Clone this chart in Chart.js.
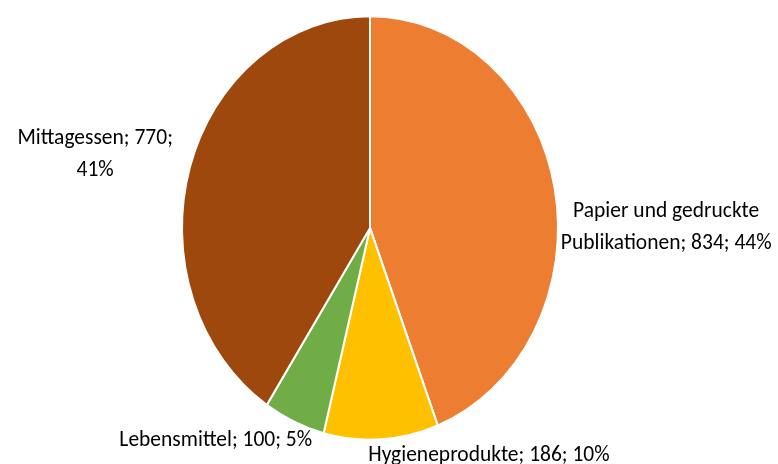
<!DOCTYPE html>
<html>
<head>
<meta charset="utf-8">
<script src="https://cdn.jsdelivr.net/npm/chart.js@4.4.0/dist/chart.umd.min.js"></script>
<style>
  html, body { margin: 0; padding: 0; background: #fff; }
  #wrap { width: 778px; height: 464px; }
</style>
</head>
<body>
<div id="wrap"><canvas id="chart" width="778" height="464"></canvas></div>
<script>
// data
const categories = ['Papier und gedruckte Publikationen', 'Hygieneprodukte', 'Lebensmittel', 'Mittagessen'];
const values = [834, 186, 100, 770];
const colors = ['#ED7D31', '#FFC000', '#70AD47', '#9E480E'];

// how the labels wrap, as in the original
const labelBreaks = [
  ['Papier und gedruckte', 'Publikationen; {v}; {p}'],
  ['Hygieneprodukte; {v}; {p}'],
  ['Lebensmittel; {v}; {p}'],
  ['Mittagessen; {v};', '{p}']
];
// small nudges so labels sit where the original put them
const labelNudge = [[2, 44], [-17, 0], [22, 4], [-13, -4]];

const yStretch = 213 / 189; // the original pie is a bit taller than wide
const fontFamily = 'Carlito, Calibri, Lato, "Open Sans", sans-serif';
const fontSize = 21.5;
const lineHeight = 32;

const total = values.reduce((a, b) => a + b, 0);

// stretch the pie vertically around its centre
const ellipsePlugin = {
  id: 'ellipse',
  beforeDatasetsDraw(chart) {
    const arc = chart.getDatasetMeta(0).data[0];
    const ctx = chart.ctx;
    ctx.save();
    ctx.translate(arc.x, arc.y);
    ctx.scale(1, yStretch);
    ctx.translate(-arc.x, -arc.y);
  },
  afterDatasetsDraw(chart) {
    chart.ctx.restore();
  }
};

// Excel style outside labels: "name; value; percent"
const labelPlugin = {
  id: 'outLabels',
  afterDraw(chart) {
    const ctx = chart.ctx;
    const meta = chart.getDatasetMeta(0);
    ctx.save();
    ctx.font = fontSize + 'px ' + fontFamily;
    ctx.fillStyle = '#000';
    ctx.textBaseline = 'middle';
    ctx.textAlign = 'center';
    meta.data.forEach((arc, i) => {
      const p = arc.getProps(['x', 'y', 'startAngle', 'endAngle', 'outerRadius'], true);
      const mid = (p.startAngle + p.endAngle) / 2;
      const px = p.x + Math.cos(mid) * p.outerRadius;
      const py = p.y + Math.sin(mid) * p.outerRadius * yStretch;
      const pct = Math.round(values[i] / total * 100) + '%';
      const lines = labelBreaks[i].map(s => s.replace('{v}', values[i]).replace('{p}', pct));
      const w = Math.max(...lines.map(l => ctx.measureText(l).width));
      const h = lines.length * lineHeight;
      let cx = Math.cos(mid) >= 0 ? px + 4 + w / 2 : px - 4 - w / 2;
      let cy = py + Math.sin(mid) * h / 2;
      cx += labelNudge[i][0];
      cy += labelNudge[i][1];
      lines.forEach((l, k) => {
        const ly = cy - h / 2 + lineHeight * (k + 0.5);
        ctx.save();
        ctx.translate(cx, ly);
        ctx.scale(1, 1.06);
        ctx.fillText(l, 0, 0);
        ctx.restore();
      });
    });
    ctx.restore();
  }
};

new Chart(document.getElementById('chart'), {
  type: 'pie',
  data: {
    labels: categories,
    datasets: [{
      data: values,
      backgroundColor: colors,
      borderColor: '#fff',
      borderWidth: 2
    }]
  },
  options: {
    responsive: false,
    animation: false,
    layout: { padding: { left: 181, right: 219, top: 39, bottom: 47 } },
    plugins: {
      legend: { display: false },
      tooltip: { enabled: false }
    }
  },
  plugins: [ellipsePlugin, labelPlugin]
});
</script>
</body>
</html>
